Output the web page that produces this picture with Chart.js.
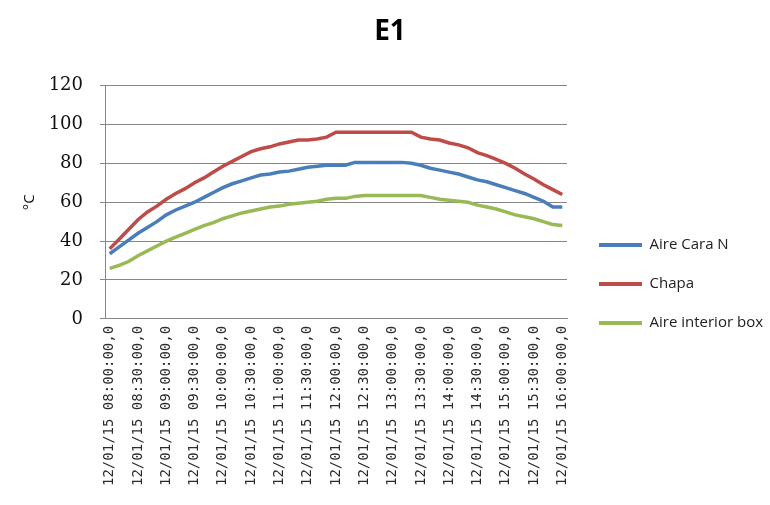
<!DOCTYPE html>
<html>
<head>
<meta charset="utf-8">
<script src="https://cdn.jsdelivr.net/npm/chart.js@4.4.1/dist/chart.umd.min.js"></script>
<style>
  html, body { margin: 0; padding: 0; background: #ffffff; }
  #wrap { width: 770px; height: 505px; position: relative; }
</style>
</head>
<body>
<div id="wrap"><canvas id="c"></canvas></div>
<script>
const chartTitle = "E1";
const yAxisTitle = "°C";
const seriesNames = ["Aire Cara N", "Chapa", "Aire interior box"];
const categories = [
  "12/01/15 08:00:00,0","12/01/15 08:10:00,0","12/01/15 08:20:00,0",
  "12/01/15 08:30:00,0","12/01/15 08:40:00,0","12/01/15 08:50:00,0",
  "12/01/15 09:00:00,0","12/01/15 09:10:00,0","12/01/15 09:20:00,0",
  "12/01/15 09:30:00,0","12/01/15 09:40:00,0","12/01/15 09:50:00,0",
  "12/01/15 10:00:00,0","12/01/15 10:10:00,0","12/01/15 10:20:00,0",
  "12/01/15 10:30:00,0","12/01/15 10:40:00,0","12/01/15 10:50:00,0",
  "12/01/15 11:00:00,0","12/01/15 11:10:00,0","12/01/15 11:20:00,0",
  "12/01/15 11:30:00,0","12/01/15 11:40:00,0","12/01/15 11:50:00,0",
  "12/01/15 12:00:00,0","12/01/15 12:10:00,0","12/01/15 12:20:00,0",
  "12/01/15 12:30:00,0","12/01/15 12:40:00,0","12/01/15 12:50:00,0",
  "12/01/15 13:00:00,0","12/01/15 13:10:00,0","12/01/15 13:20:00,0",
  "12/01/15 13:30:00,0","12/01/15 13:40:00,0","12/01/15 13:50:00,0",
  "12/01/15 14:00:00,0","12/01/15 14:10:00,0","12/01/15 14:20:00,0",
  "12/01/15 14:30:00,0","12/01/15 14:40:00,0","12/01/15 14:50:00,0",
  "12/01/15 15:00:00,0","12/01/15 15:10:00,0","12/01/15 15:20:00,0",
  "12/01/15 15:30:00,0","12/01/15 15:40:00,0","12/01/15 15:50:00,0",
  "12/01/15 16:00:00,0"
];
const aireCaraN = [
  33.5, 37, 40.5, 44, 47, 50, 53.5, 56, 58, 60, 62.5, 65,
  67.5, 69.5, 71, 72.5, 74, 74.5, 75.5, 76, 77, 78, 78.5, 79,
  79, 79, 80.5, 80.5, 80.5, 80.5, 80.5, 80.5, 80, 79, 77.5, 76.5,
  75.5, 74.5, 73, 71.5, 70.5, 69, 67.5, 66, 64.5, 62.5, 60.5, 57.5,
  57.5
];
const chapa = [
  36, 41, 46, 51, 55, 58, 61.5, 64.5, 67, 70, 72.5, 75.5,
  78.5, 81, 83.5, 86, 87.5, 88.5, 90, 91, 92, 92, 92.5, 93.5,
  96, 96, 96, 96, 96, 96, 96, 96, 96, 93.5, 92.5, 92,
  90.5, 89.5, 88, 85.5, 84, 82, 80, 77.5, 74.5, 72, 69, 66.5,
  64
];
const aireInteriorBox = [
  26, 27.5, 29.5, 32.5, 35, 37.5, 40, 42, 44, 46, 48, 49.5,
  51.5, 53, 54.5, 55.5, 56.5, 57.5, 58, 59, 59.5, 60, 60.5, 61.5,
  62, 62, 63, 63.5, 63.5, 63.5, 63.5, 63.5, 63.5, 63.5, 62.5, 61.5,
  61, 60.5, 60, 58.5, 57.5, 56.5, 55, 53.5, 52.5, 51.5, 50, 48.5,
  48
];
const yTicks = { min: 0, max: 120, step: 20 };
const labelEvery = 3;

const colors = ["#4A7EBB", "#BE4B48", "#98B954"];
const seriesValues = [aireCaraN, chapa, aireInteriorBox];

// widen the legend box / shift its content so plot-to-legend gap matches
const LEGEND_FIT_EXTRA = 5;
const LEGEND_DRAW_SHIFT = 8;
const legendTweak = {
  id: 'legendTweak',
  beforeUpdate(chart) {
    const lg = chart.legend;
    if (lg && !lg._tweaked) {
      const fit = lg.fit;
      lg.fit = function() { fit.call(this); this.width += LEGEND_FIT_EXTRA; };
      const draw = lg.draw;
      lg.draw = function() { this.left += LEGEND_DRAW_SHIFT; draw.call(this); this.left -= LEGEND_DRAW_SHIFT; };
      lg._tweaked = true;
    }
  }
};

function makeChart() {
  const ctx = document.getElementById('c');
  new Chart(ctx, {
    type: 'line',
    data: {
      labels: categories,
      datasets: seriesValues.map((vals, i) => ({
        label: seriesNames[i],
        data: vals,
        borderColor: colors[i],
        backgroundColor: colors[i],
        borderWidth: 3.5,
        pointRadius: 0,
        tension: 0,
        fill: false
      }))
    },
    plugins: [legendTweak],
    options: {
      responsive: true,
      maintainAspectRatio: false,
      animation: false,
      layout: { padding: { left: 10, right: 0, top: 0, bottom: 12 } },
      plugins: {
        title: {
          display: true,
          text: chartTitle,
          color: '#000',
          font: { family: 'Open Sans', size: 28, weight: 'bold' },
          padding: { top: 15, bottom: 37 }
        },
        legend: {
          position: 'right',
          align: 'center',
          maxWidth: 400,
          title: { display: true, text: '', font: { size: 10 }, padding: { top: 32, bottom: 31 } },
          labels: {
            color: '#222',
            font: { family: 'Open Sans', size: 15 },
            boxWidth: 43,
            boxHeight: 4,
            padding: 24,
            generateLabels: (chart) =>
              Chart.defaults.plugins.legend.labels.generateLabels(chart)
                .map(l => Object.assign(l, { lineWidth: 0, fillStyle: l.strokeStyle }))
          }
        },
        tooltip: { enabled: false }
      },
      scales: {
        x: {
          offset: true,
          grid: { display: false, drawTicks: false },
          border: { display: true, color: '#868686', width: 1 },
          ticks: {
            autoSkip: false,
            minRotation: 90,
            maxRotation: 90,
            padding: 7,
            color: '#2a2a2a',
            font: { family: 'DejaVu Sans Mono', size: 14 },
            callback: function(value, index) {
              return index % labelEvery === 0 ? this.getLabelForValue(value) : '';
            }
          }
        },
        y: {
          min: yTicks.min,
          max: yTicks.max,
          afterFit(scale) { scale.width = 95; },
          grid: { color: '#868686', lineWidth: 1, drawTicks: true, tickLength: 5 },
          border: { display: true, color: '#868686', width: 1 },
          ticks: {
            stepSize: yTicks.step,
            padding: 17,
            color: '#111',
            font: { family: 'DejaVu Serif', size: 18 }
          },
          title: {
            display: true,
            text: yAxisTitle,
            color: '#111',
            font: { family: 'Open Sans', size: 15 },
            padding: { top: 11, bottom: 10 }
          }
        }
      }
    }
  });
}

const fontLoads = [
  'bold 28px "Open Sans"', '15px "Open Sans"', '14px "DejaVu Sans Mono"', '18px "DejaVu Serif"'
].map(f => document.fonts.load(f));
Promise.all(fontLoads).catch(() => {}).then(makeChart);
</script>
</body>
</html>
